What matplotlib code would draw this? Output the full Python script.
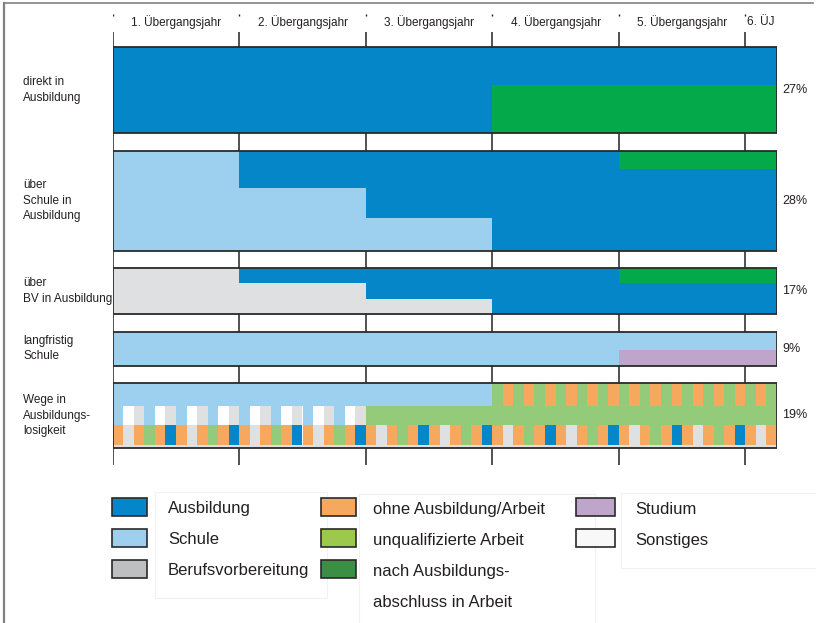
import numpy as np
import matplotlib.pyplot as plt
from matplotlib.patches import Rectangle

plt.rcParams['font.family'] = ['Liberation Sans', 'DejaVu Sans']

# Achse: Übergangsjahre (6. Jahr nur zum Teil)
year_edges = [0, 1, 2, 3, 4, 5, 5.25]
year_labels = ["1. Übergangsjahr", "2. Übergangsjahr", "3. Übergangsjahr",
               "4. Übergangsjahr", "5. Übergangsjahr", "6. ÜJ"]

row_labels = ["direkt in\nAusbildung", "über\nSchule in\nAusbildung",
              "über\nBV in Ausbildung", "langfristig\nSchule",
              "Wege in\nAusbildungs-\nlosigkeit"]
row_shares = ["27%", "28%", "17%", "9%", "19%"]
row_heights = [86, 100, 46, 34, 65]

# Zustände je Jahr, von oben nach unten gestapelt (Anteil an der Zeile)
row1 = [('A', [1, 1, 1, .44, .44, .44]),
        ('N', [0, 0, 0, .56, .56, .56])]
row2 = [('N', [0, 0, 0, 0, .18, .18]),
        ('A', [0, .37, .67, 1, .82, .82]),
        ('S', [1, .63, .33, 0, 0, 0])]
row3 = [('N', [0, 0, 0, 0, .33, .33]),
        ('A', [0, .33, .67, 1, .67, .67]),
        ('B', [1, .67, .33, 0, 0, 0])]
row4 = [('S', [1, 1, 1, 1, .53, .53]),
        ('T', [0, 0, 0, 0, .47, .47])]

# Wege in Ausbildungslosigkeit: Monatsstreifen (63 Monate), drei Bänder
band_shares = [.35, .29, .32, .04]
band_top = "SSSSSSSSSSSSSSSSSSSSSSSSSSSSSSSSSSSS" + "UOUOUOUOUOUOUOUOUOUOUOUOUOU"
band_mid = "SXBSXBSXBSXBSXBSXBSXBSXB" + "UUUUUUUUUUUUUUUUUUUUUUUUUUUUUUUUUUUUUUU"
band_bot = "OBOUOAOBOUOAOBOUOAOBOUOAOBOUOAOBOUOAOBOUOAOBOUOAOBOUOAOBOUOAOBO"
band_line = "BBBBBBBBBBBBBBBBBBBBBBBBBBBBBBBBBBBBBBBBBBBBBBBBBBBBBBBBBBBBBBB"
row5 = [band_top, band_mid, band_bot, band_line]

colors = {'A': '#0486c9', 'S': '#9dcfee', 'B': '#dfe0e1', 'O': '#f6a85e',
          'U': '#93cb7a', 'N': '#04aa4a', 'T': '#c0a5cb', 'X': '#ffffff'}

legend_cols = [
    [('A', "Ausbildung"), ('S', "Schule"), ('B', "Berufsvorbereitung")],
    [('O', "ohne Ausbildung/Arbeit"), ('U', "unqualifizierte Arbeit"),
     ('N', "nach Ausbildungs-\nabschluss in Arbeit")],
    [('T', "Studium"), ('X', "Sonstiges")],
]
legend_colors = {'A': '#0486c9', 'S': '#9dcfee', 'B': '#bdbfc0', 'O': '#f6a85e',
                 'U': '#9bc94d', 'N': '#3a8f45', 'T': '#c0a5cb', 'X': '#f8f8f8'}

W, H = 816, 623
TXT = '#231f20'
EDGE = '#2a2a2a'

fig = plt.figure(figsize=(W / 100, H / 100), dpi=100)
x0px, x1px = 112.7, 777
ax = fig.add_axes([x0px / W, 1 - 468 / H, (x1px - x0px) / W, (468 - 10) / H])
ax.set_xlim(year_edges[0], year_edges[-1])
ax.set_ylim(468, 10)
ax.axis('off')

def px(x, y):
    return x / W, 1 - y / H

# Zeilenpositionen
gap = 17.5
tops = []
t = 47
for h in row_heights:
    tops.append(t)
    t += h + gap

# Jahresgrenzen
bounds = year_edges[:-1]
ax.vlines(bounds, 32, 465, color='#222222', lw=1.1, zorder=0)
ax.vlines(bounds, 13.5, 16, color='#222222', lw=1.0, zorder=0)

# Jahresbeschriftung
for i, lab in enumerate(year_labels):
    xm = (year_edges[i] + year_edges[i + 1]) / 2
    ax.text(xm, 22, lab, ha='center', va='center', fontsize=8.5, color=TXT)

# Zeilen 1-4
lefts = np.array(year_edges[:-1])
widths = np.diff(year_edges)
for r, stack in enumerate([row1, row2, row3, row4]):
    top, h = tops[r], row_heights[r]
    cum = np.zeros(len(lefts))
    for code, fr in stack:
        fr = np.array(fr)
        ax.bar(lefts, fr * h, width=widths, bottom=top + cum * h, align='edge',
               color=colors[code], linewidth=0, antialiased=False, zorder=2)
        cum += fr

# Zeile 5: Monatsstreifen, gleiche Nachbarmonate zusammengefasst
top, h = tops[4], row_heights[4]
cum = 0
for share, band in zip(band_shares, row5):
    starts, lens, cols = [], [], []
    for m, c in enumerate(band):
        if cols and cols[-1] == c:
            lens[-1] += 1
        else:
            starts.append(m)
            lens.append(1)
            cols.append(c)
    ax.bar(np.array(starts) / 12, share * h, width=np.array(lens) / 12,
           bottom=top + cum * h, align='edge', color=[colors[c] for c in cols],
           linewidth=0, antialiased=False, zorder=2)
    cum += share

# Rahmen, Beschriftungen links, Anteile rechts
for r in range(5):
    top, h = tops[r], row_heights[r]
    ax.add_patch(Rectangle((year_edges[0], top), year_edges[-1] - year_edges[0], h,
                           fill=False, edgecolor=EDGE, lw=1.3, zorder=3))
    ym = top + h / 2
    fig.text(23 / W, 1 - ym / H, row_labels[r], ha='left', va='center',
             fontsize=8.5, color=TXT, linespacing=1.35)
    fig.text(782 / W, 1 - ym / H, row_shares[r], ha='left', va='center',
             fontsize=9, color=TXT)

# Rahmen der Abbildung (oben und links)
fig.add_artist(plt.Line2D([4 / W, 813 / W], [1 - 3 / H, 1 - 3 / H],
                          color='#808080', lw=1.2))
fig.add_artist(plt.Line2D([4 / W, 4 / W], [1 - 3 / H, 0], color='#808080', lw=1.6))

# Legende
faint = [(155, 492, 172, 106), (359, 494, 236, 140), (621, 493, 200, 75)]
for bx, by, bw, bh in faint:
    fig.add_artist(Rectangle(px(bx, by + bh), bw / W, bh / H, transform=fig.transFigure,
                             fill=False, edgecolor='#f1f1f1', lw=0.8))

col_sw_x = [112, 321, 576]
col_sw_w = [35, 35, 39]
col_txt_x = [168, 373, 635]
row_y = [507, 538, 569]
for c, items in enumerate(legend_cols):
    for i, (code, lab) in enumerate(items):
        y = row_y[i]
        fig.add_artist(Rectangle(px(col_sw_x[c], y + 9), col_sw_w[c] / W, 18 / H,
                                 transform=fig.transFigure, facecolor=legend_colors[code],
                                 edgecolor=EDGE, lw=1.2))
        ty = y + (2.5 if c > 0 else 1.5)
        for k, ln in enumerate(lab.split('\n')):
            fig.text(col_txt_x[c] / W, 1 - (ty + 31 * k) / H, ln, ha='left',
                     va='center', fontsize=12, color=TXT)

fig.savefig('out.png', dpi=100)
